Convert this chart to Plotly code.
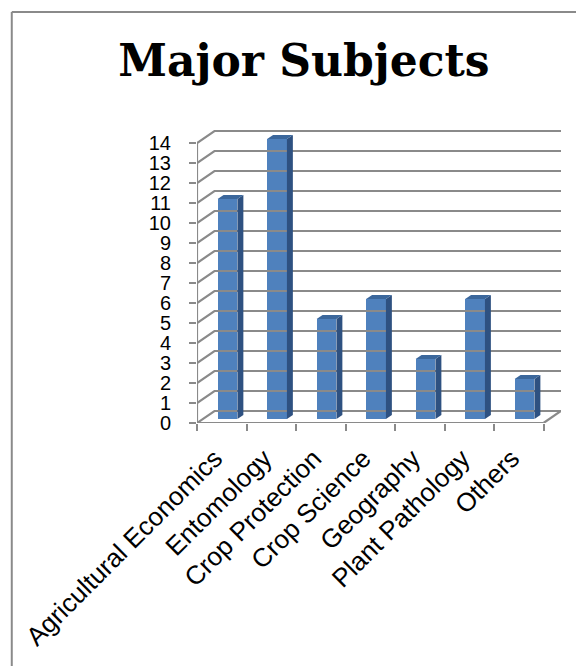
import plotly.graph_objects as go

# ---- data ----
categories = ["Agricultural Economics", "Entomology", "Crop Protection",
              "Crop Science", "Geography", "Plant Pathology", "Others"]
values = [11, 14, 5, 6, 3, 6, 2]
y_ticks = list(range(0, 15))

# ---- 3D look parameters (in axis units) ----
DX = 0.353   # depth offset along x (category units)
DY = 0.6     # depth offset along y (value units)
F0 = 0.33    # bar front depth fraction
FD = 0.34    # bar depth fraction
BW = 0.4     # bar width

FRONT = "#4F81BD"
SIDE = "#2E5181"
TOP = "#3B679C"
GRID = "#8A8A8A"

n = len(categories)
centers = [i + 0.5 for i in range(n)]

fig = go.Figure()

# back wall gridlines + left wall diagonals
gx, gy = [], []
for v in y_ticks:
    gx += [0, DX, n + DX, None]
    gy += [v, v + DY, v + DY, None]
# floor right diagonal
gx += [n, n + DX, None]
gy += [0, DY, None]
fig.add_trace(go.Scatter(x=gx, y=gy, mode="lines",
                         line=dict(color=GRID, width=2.2),
                         hoverinfo="skip", showlegend=False))

# front axis lines
fig.add_trace(go.Scatter(x=[0, 0, None, 0, n], y=[14, 0, None, 0, 0], mode="lines",
                         line=dict(color=GRID, width=2.2),
                         hoverinfo="skip", showlegend=False))

ox, oy = F0 * DX, F0 * DY
dx, dy = FD * DX, FD * DY

# front faces
fig.add_trace(go.Bar(x=[c + ox for c in centers], y=values, base=[oy] * n,
                     width=BW, marker=dict(color=FRONT, line=dict(width=0)),
                     showlegend=False))

# side and top faces
for c, v in zip(centers, values):
    x0 = c + ox - BW / 2
    x1 = c + ox + BW / 2
    b = oy
    fig.add_trace(go.Scatter(
        x=[x1, x1 + dx, x1 + dx, x1, x1],
        y=[b, b + dy, b + v + dy, b + v, b],
        fill="toself", fillcolor=SIDE, mode="lines", line=dict(width=0, color=SIDE),
        hoverinfo="skip", showlegend=False))
    fig.add_trace(go.Scatter(
        x=[x0, x1, x1 + dx, x0 + dx, x0],
        y=[b + v, b + v, b + v + dy, b + v + dy, b + v],
        fill="toself", fillcolor=TOP, mode="lines", line=dict(width=0, color=TOP),
        hoverinfo="skip", showlegend=False))

# figure coordinates (page has an 8px body margin)
W, H = 576, 658
L, R, T, B = 187, 22.5, 120, 243
pw = W - L - R
ph = H - T - B
xr = [0, n + DX]
yr = [0, 14.75]

def px_to_paper_x(p):
    return (p - L) / pw

def py_to_paper_y(p):
    return (H - B - p) / ph

# chart border (left and top edges)
fig.add_shape(type="line", xref="paper", yref="paper",
              x0=px_to_paper_x(0.5), x1=px_to_paper_x(0.5),
              y0=py_to_paper_y(4), y1=py_to_paper_y(H + 10),
              line=dict(color=GRID, width=2))
fig.add_shape(type="line", xref="paper", yref="paper",
              x0=px_to_paper_x(0.5), x1=px_to_paper_x(W + 10),
              y0=py_to_paper_y(4), y1=py_to_paper_y(4),
              line=dict(color=GRID, width=2))

fig.update_layout(
    width=W, height=H,
    margin=dict(l=L, r=R, t=T, b=B),
    paper_bgcolor="white", plot_bgcolor="white",
    title=dict(text="<b>Major Subjects</b>", x=296 / W, xref="container", xanchor="center",
               y=1 - 53 / H, yref="container", yanchor="middle",
               font=dict(family="DejaVu Serif", size=44, color="black")),
    xaxis=dict(range=xr, showgrid=False, zeroline=False, showline=False,
               tickmode="array", tickvals=centers, ticktext=categories,
               tickangle=-45, ticks="",
               ticklabelshift=-7, ticklabelstandoff=14,
               tickfont=dict(family="Liberation Sans", size=26, color="black"),
               minor=dict(tickmode="array", tickvals=list(range(n + 1)), ticks="outside",
                          ticklen=7, tickwidth=2, tickcolor=GRID, showgrid=False)),
    yaxis=dict(range=yr, showgrid=False, zeroline=False, showline=False,
               tickmode="array", tickvals=y_ticks, ticktext=[str(t) for t in y_ticks],
               ticks="outside", ticklen=7, tickwidth=2, tickcolor=GRID,
               ticklabelstandoff=14,
               tickfont=dict(family="Liberation Sans", size=20, color="black")),
    bargap=0,
)

fig.write_html("out.html")
